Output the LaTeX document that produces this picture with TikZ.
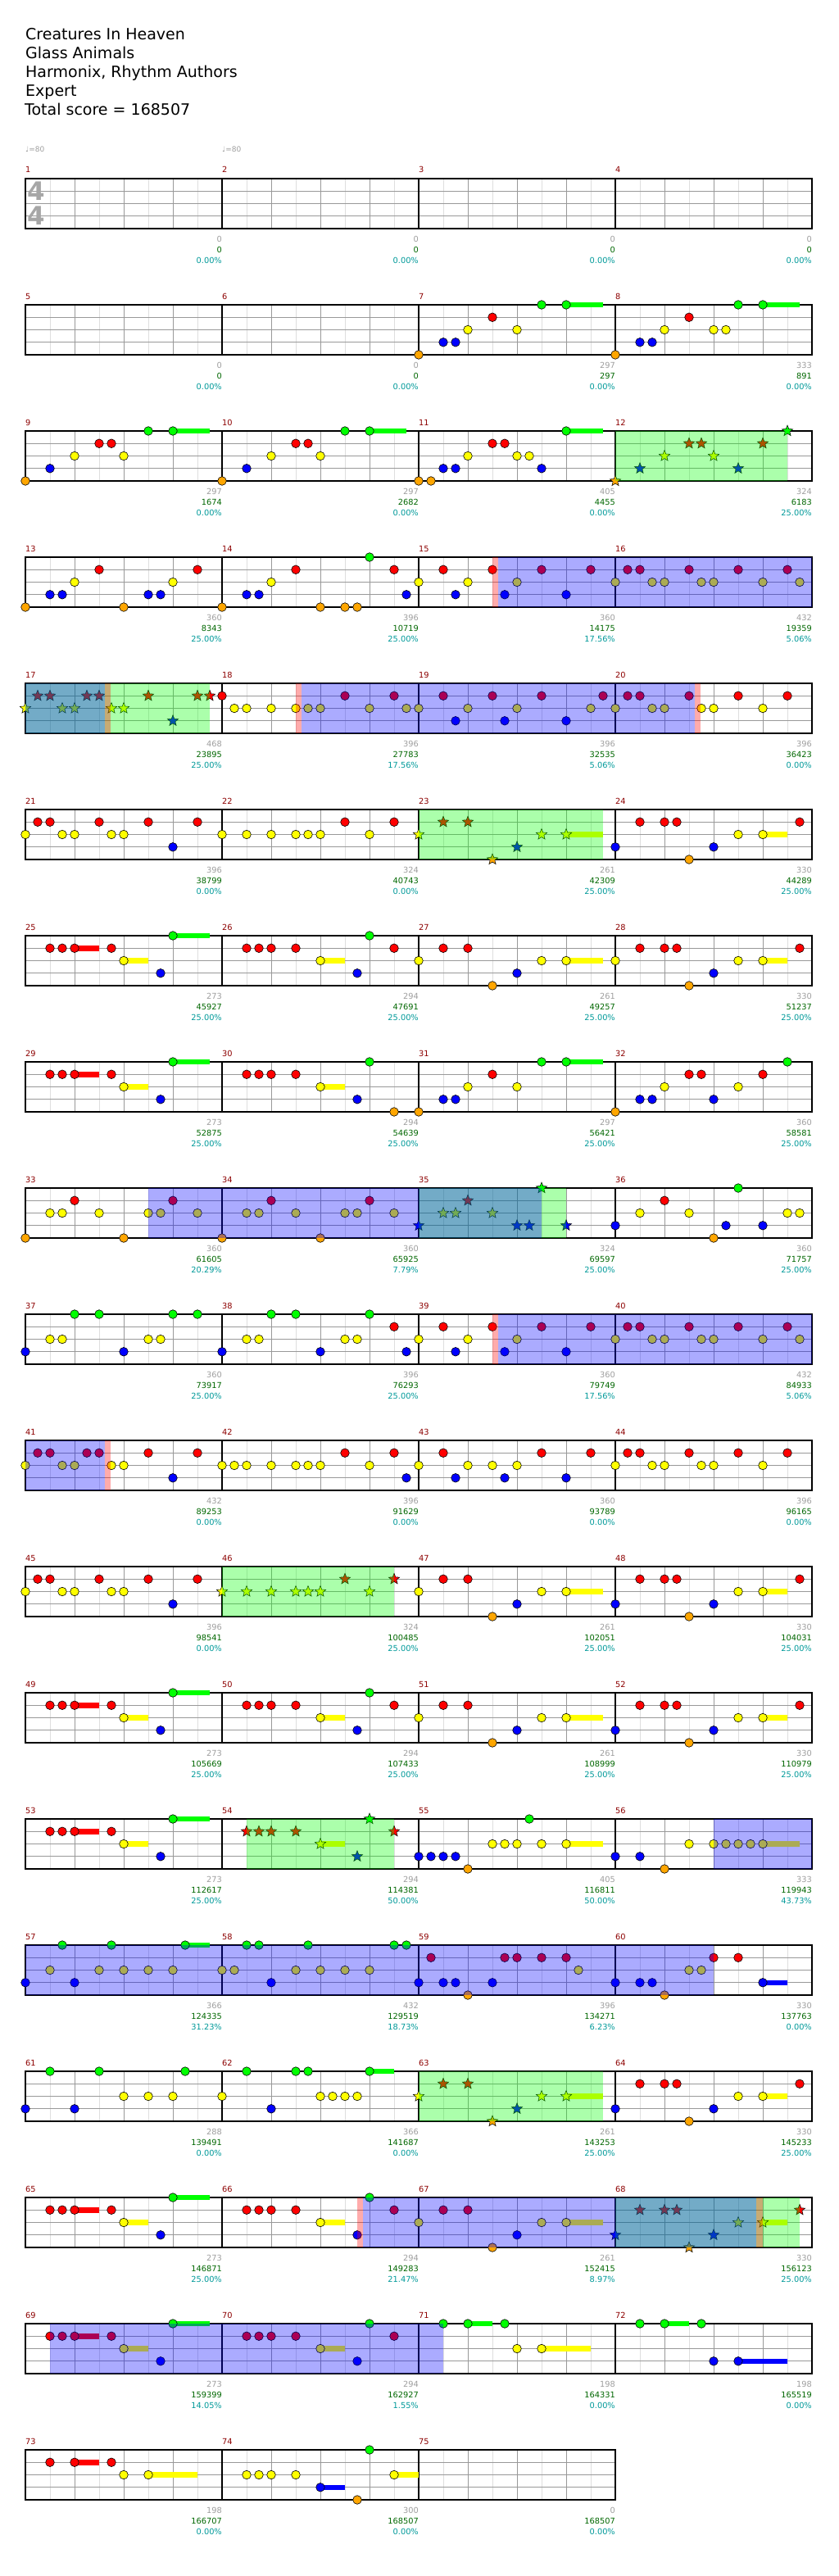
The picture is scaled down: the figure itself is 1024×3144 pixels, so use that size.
\documentclass[tikz,border=0pt]{standalone}
\usepackage{fontspec}
\setmainfont{DejaVu Sans}
\usetikzlibrary{shapes.geometric}

\definecolor{gemgreen}{rgb}{0,1,0}
\definecolor{gemred}{rgb}{1,0,0}
\definecolor{gemyellow}{rgb}{1,1,0}
\definecolor{gemblue}{rgb}{0,0,1}
\definecolor{gemorange}{rgb}{1,0.65,0}
\colorlet{lane0}{gemgreen}
\colorlet{lane1}{gemred}
\colorlet{lane2}{gemyellow}
\colorlet{lane3}{gemblue}
\colorlet{lane4}{gemorange}
\definecolor{barred}{rgb}{0.55,0,0}
\definecolor{gaingray}{rgb}{0.62,0.62,0.62}
\definecolor{totgreen}{rgb}{0,0.4,0}
\definecolor{pctcyan}{rgb}{0,0.6,0.6}

\newcommand\numfont{\fontsize{9.8}{11}\selectfont}

% measure, position in eighths, lane -> \notex, \notey
\newcommand\notexy[3]{%
  \pgfmathtruncatemacro\nrow{(#1-1)/4}%
  \pgfmathtruncatemacro\ncol{#1-1-4*\nrow}%
  \pgfmathsetmacro\notex{31+240*\ncol+30*#2}%
  \pgfmathsetmacro\notey{218+154*\nrow+15.25*#3}}

% style, from measure/pos, to measure/pos (same row)
\newcommand\zone[5]{%
  \notexy{#2}{#3}{0}\let\zx\notex\let\zy\notey
  \notexy{#4}{#5}{4}%
  \fill[#1] (\zx,\zy) rectangle (\notex,\notey);}

\def\greennotes{7/5,7/6,8/5,8/6,9/5,9/6,10/5,10/6,11/6,14/6,25/6,26/6,29/6,30/6,31/5,31/6,32/7,36/5,37/2,37/3,37/6,37/7,38/2,38/3,38/6,49/6,50/6,53/6,55/4.5,57/1.5,57/3.5,57/6.5,58/1,58/1.5,58/3.5,58/7,58/7.5,61/1,61/3,61/6.5,62/1,62/3,62/3.5,62/6,65/6,66/6,69/6,70/6,71/1,71/2,71/3.5,72/1,72/2,72/3.5,74/6}
\def\rednotes{7/3,8/3,9/3,9/3.5,10/3,10/3.5,11/3,11/3.5,13/3,13/7,14/3,14/7,15/1,15/3,15/5,15/7,16/0.5,16/1,16/3,16/5,16/7,18/0,18/5,18/7,19/1,19/3,19/5,19/7.5,20/0.5,20/1,20/3,20/5,20/7,21/0.5,21/1,21/3,21/5,21/7,22/5,22/7,24/1,24/2,24/2.5,24/7.5,25/1,25/1.5,25/2,25/3.5,26/1,26/1.5,26/2,26/3,26/7,27/1,27/2,28/1,28/2,28/2.5,28/7.5,29/1,29/1.5,29/2,29/3.5,30/1,30/1.5,30/2,30/3,31/3,32/3,32/3.5,32/6,33/2,33/6,34/2,34/6,36/2,38/7,39/1,39/3,39/5,39/7,40/0.5,40/1,40/3,40/5,40/7,41/0.5,41/1,41/2.5,41/3,41/5,41/7,42/5,42/7,43/1,43/5,43/7,44/0.5,44/1,44/3,44/5,44/7,45/0.5,45/1,45/3,45/5,45/7,47/1,47/2,48/1,48/2,48/2.5,48/7.5,49/1,49/1.5,49/2,49/3.5,50/1,50/1.5,50/2,50/3,50/7,51/1,51/2,52/1,52/2,52/2.5,52/7.5,53/1,53/1.5,53/2,53/3.5,59/0.5,59/3.5,59/4,59/5,59/6,60/4,60/5,64/1,64/2,64/2.5,64/7.5,65/1,65/1.5,65/2,65/3.5,66/1,66/1.5,66/2,66/3,66/7,67/1,67/2,69/1,69/1.5,69/2,69/3.5,70/1,70/1.5,70/2,70/3,70/7,73/1,73/2,73/3.5}
\def\yellownotes{7/2,7/4,8/2,8/4,8/4.5,9/2,9/4,10/2,10/4,11/2,11/4,11/4.5,13/2,13/6,14/2,15/0,15/2,15/4,16/0,16/1.5,16/2,16/3.5,16/4,16/6,16/7.5,18/0.5,18/1,18/2,18/3,18/3.5,18/4,18/6,18/7.5,19/0,19/2,19/4,19/7,20/0,20/1.5,20/2,20/3.5,20/4,20/6,21/0,21/1.5,21/2,21/3.5,21/4,22/0,22/1,22/2,22/3,22/3.5,22/4,22/6,24/5,24/6,25/4,26/4,27/0,27/5,27/6,28/0,28/5,28/6,29/4,30/4,31/2,31/4,32/2,32/5,33/1,33/1.5,33/3,33/5,33/5.5,33/7,34/1,34/1.5,34/3,34/5,34/5.5,34/7,36/1,36/3,36/7,36/7.5,37/1,37/1.5,37/5,37/5.5,38/1,38/1.5,38/5,38/5.5,39/0,39/2,39/4,40/0,40/1.5,40/2,40/3.5,40/4,40/6,40/7.5,41/0,41/1.5,41/2,41/3.5,41/4,42/0,42/0.5,42/1,42/2,42/3,42/3.5,42/4,42/6,43/0,43/2,43/3,43/4,44/0,44/1.5,44/2,44/3.5,44/4,44/6,45/0,45/1.5,45/2,45/3.5,45/4,47/0,47/5,47/6,48/5,48/6,49/4,50/4,51/0,51/5,51/6,52/5,52/6,53/4,55/3,55/3.5,55/4,55/5,55/6,56/3,56/4,56/4.5,56/5,56/5.5,56/6,57/1,57/3,57/4,57/5,57/6,58/0,58/0.5,58/3,58/4,58/5,58/6,59/6.5,60/3,60/3.5,61/4,61/5,61/6,62/0,62/4,62/4.5,62/5,62/5.5,64/5,64/6,65/4,66/4,67/0,67/5,67/6,69/4,70/4,71/4,71/5,73/4,73/5,74/1,74/1.5,74/2,74/3,74/7}
\def\bluenotes{7/1,7/1.5,8/1,8/1.5,9/1,10/1,11/1,11/1.5,11/5,13/1,13/1.5,13/5,13/5.5,14/1,14/1.5,14/7.5,15/1.5,15/3.5,15/6,19/1.5,19/3.5,19/6,21/6,24/0,24/4,25/5.5,26/5.5,27/4,28/4,29/5.5,30/5.5,31/1,31/1.5,32/1,32/1.5,32/4,36/0,36/4.5,36/6,37/0,37/4,38/0,38/4,38/7.5,39/1.5,39/3.5,39/6,41/6,42/7.5,43/1.5,43/3.5,43/6,45/6,47/4,48/0,48/4,49/5.5,50/5.5,51/4,52/0,52/4,53/5.5,55/0,55/0.5,55/1,55/1.5,56/0,56/1,57/0,57/2,58/2,59/0,59/1,59/1.5,59/3,60/0,60/1,60/1.5,60/6,61/0,61/2,62/2,64/0,64/4,65/5.5,66/5.5,67/4,69/5.5,70/5.5,72/4,72/5,74/4}
\def\orangenotes{7/0,8/0,9/0,10/0,11/0,11/0.5,13/0,13/4,14/0,14/4,14/5,14/5.5,24/3,27/3,28/3,30/7,31/0,32/0,33/0,33/4,34/0,34/4,36/4,47/3,48/3,51/3,52/3,55/2,56/2,59/2,60/2,64/3,67/3,74/5.5}
\def\starnotes{12/0/4,12/1/3,12/2/2,12/3/1,12/3.5/1,12/4/2,12/5/3,12/6/1,12/7/0,17/0/2,17/0.5/1,17/1/1,17/1.5/2,17/2/2,17/2.5/1,17/3/1,17/3.5/2,17/4/2,17/5/1,17/6/3,17/7/1,17/7.5/1,23/0/2,23/1/1,23/2/1,23/3/4,23/4/3,23/5/2,23/6/2,35/0/3,35/1/2,35/1.5/2,35/2/1,35/3/2,35/4/3,35/4.5/3,35/5/0,35/6/3,46/0/2,46/1/2,46/2/2,46/3/2,46/3.5/2,46/4/2,46/5/1,46/6/2,46/7/1,54/1/1,54/1.5/1,54/2/1,54/3/1,54/4/2,54/5.5/3,54/6/0,54/7/1,63/0/2,63/1/1,63/2/1,63/3/4,63/4/3,63/5/2,63/6/2,68/0/3,68/1/1,68/2/1,68/2.5/1,68/3/4,68/4/3,68/5/2,68/6/2,68/7.5/1}
\def\holds{7/6/7.5/0,8/6/7.5/0,9/6/7.5/0,10/6/7.5/0,11/6/7.5/0,23/6/7.5/2,24/6/7/2,25/2/3/1,25/4/5/2,25/6/7.5/0,26/4/5/2,27/6/7.5/2,28/6/7/2,29/2/3/1,29/4/5/2,29/6/7.5/0,30/4/5/2,31/6/7.5/0,47/6/7.5/2,48/6/7/2,49/2/3/1,49/4/5/2,49/6/7.5/0,50/4/5/2,51/6/7.5/2,52/6/7/2,53/2/3/1,53/4/5/2,53/6/7.5/0,54/4/5/2,55/6/7.5/2,56/6/7.5/2,57/6.5/7.5/0,60/6/7/3,62/6/7/0,63/6/7.5/2,64/6/7/2,65/2/3/1,65/4/5/2,65/6/7.5/0,66/4/5/2,67/6/7.5/2,68/6/7/2,69/2/3/1,69/4/5/2,69/6/7.5/0,70/4/5/2,71/2/3/0,71/5/7/2,72/2/3/0,72/5/7/3,73/2/3/1,73/5/7/2,74/4/5/3,74/7/8/2}
\def\scores{1/0/0/0.00,2/0/0/0.00,3/0/0/0.00,4/0/0/0.00,5/0/0/0.00,6/0/0/0.00,7/297/297/0.00,8/333/891/0.00,9/297/1674/0.00,10/297/2682/0.00,11/405/4455/0.00,12/324/6183/25.00,13/360/8343/25.00,14/396/10719/25.00,15/360/14175/17.56,16/432/19359/5.06,17/468/23895/25.00,18/396/27783/17.56,19/396/32535/5.06,20/396/36423/0.00,21/396/38799/0.00,22/324/40743/0.00,23/261/42309/25.00,24/330/44289/25.00,25/273/45927/25.00,26/294/47691/25.00,27/261/49257/25.00,28/330/51237/25.00,29/273/52875/25.00,30/294/54639/25.00,31/297/56421/25.00,32/360/58581/25.00,33/360/61605/20.29,34/360/65925/7.79,35/324/69597/25.00,36/360/71757/25.00,37/360/73917/25.00,38/396/76293/25.00,39/360/79749/17.56,40/432/84933/5.06,41/432/89253/0.00,42/396/91629/0.00,43/360/93789/0.00,44/396/96165/0.00,45/396/98541/0.00,46/324/100485/25.00,47/261/102051/25.00,48/330/104031/25.00,49/273/105669/25.00,50/294/107433/25.00,51/261/108999/25.00,52/330/110979/25.00,53/273/112617/25.00,54/294/114381/50.00,55/405/116811/50.00,56/333/119943/43.73,57/366/124335/31.23,58/432/129519/18.73,59/396/134271/6.23,60/330/137763/0.00,61/288/139491/0.00,62/366/141687/0.00,63/261/143253/25.00,64/330/145233/25.00,65/273/146871/25.00,66/294/149283/21.47,67/261/152415/8.97,68/330/156123/25.00,69/273/159399/14.05,70/294/162927/1.55,71/198/164331/0.00,72/198/165519/0.00,73/198/166707/0.00,74/300/168507/0.00,75/0/168507/0.00}

\begin{document}
\begin{tikzpicture}[x=1pt,y=-1pt,
  headline/.style={anchor=base west,inner sep=0pt,font=\fontsize{19}{23}\selectfont},
  tempo/.style={anchor=base west,inner sep=0pt,text=gaingray,font=\fontsize{9}{10}\selectfont},
  timesig/.style={inner sep=0pt,text=gray!70,font=\fontsize{31}{31}\selectfont\bfseries},
  eighthline/.style={draw=black!13,line width=0.8pt},
  beatline/.style={draw=black!40,line width=0.8pt},
  laneline/.style={draw=black!40,line width=0.8pt},
  staffbox/.style={draw=black,line width=1.1pt},
  gem/.style={draw=black,line width=0.6pt},
  starnote/.style={star,star points=5,star point ratio=2.3,minimum size=14pt,inner sep=0pt,draw=black,line width=0.5pt},
  hold/.style={line width=6.5pt},
  odzone/.style={fill=gemgreen,fill opacity=0.33},
  solozone/.style={fill=gemblue,fill opacity=0.33},
  markzone/.style={fill=gemred,fill opacity=0.33},
  barlabel/.style={anchor=base west,inner sep=0pt,text=barred,font=\numfont},
  gainlabel/.style={anchor=base east,inner sep=0pt,text=gaingray,font=\numfont},
  totlabel/.style={anchor=base east,inner sep=0pt,text=totgreen,font=\numfont},
  pctlabel/.style={anchor=base east,inner sep=0pt,text=pctcyan,font=\numfont}]
  \useasboundingbox (0,0) rectangle (1024,3144);

  % song header
  \node[headline] (title) at (31,49) {Creatures In Heaven};
  \node[headline] (artist) at (31,72) {Glass Animals};
  \node[headline] (charter) at (31,95) {Harmonix, Rhythm Authors};
  \node[headline] (level) at (31,118) {Expert};
  \node[headline] (total) at (30,141) {Total score = 168507};
  \node[tempo] (tempo1) at (31,186) {♩=80};
  \node[tempo] (tempo2) at (271,186) {♩=80};

  % staves
  \foreach \m in {1,...,75} {
    \notexy{\m}{0}{0}
    \foreach \k in {1,3,5,7}
      \draw[eighthline] (\notex+30*\k,\notey) -- ++(0,61);
    \foreach \k in {2,4,6}
      \draw[beatline] (\notex+30*\k,\notey) -- ++(0,61);
    \foreach \k in {1,2,3}
      \draw[laneline] (\notex,\notey+15.25*\k) -- ++(240,0);
    \draw[staffbox] (\notex,\notey) rectangle ++(240,61);
  }
  \node[timesig] (tsup) at (44,233.5) {4};
  \node[timesig] (tsdown) at (44,263.5) {4};

  % sustains
  \foreach \m/\p/\e/\g in \holds {
    \notexy{\m}{\e}{\g}\let\hx\notex
    \notexy{\m}{\p}{\g}
    \draw[hold,lane\g] (\notex,\notey) -- (\hx,\notey);
  }

  % notes
  \foreach \m/\p in \greennotes {\notexy{\m}{\p}{0}\draw[gem,fill=gemgreen] (\notex,\notey) circle (5.3pt);}
  \foreach \m/\p in \rednotes {\notexy{\m}{\p}{1}\draw[gem,fill=gemred] (\notex,\notey) circle (5.3pt);}
  \foreach \m/\p in \yellownotes {\notexy{\m}{\p}{2}\draw[gem,fill=gemyellow] (\notex,\notey) circle (5.3pt);}
  \foreach \m/\p in \bluenotes {\notexy{\m}{\p}{3}\draw[gem,fill=gemblue] (\notex,\notey) circle (5.3pt);}
  \foreach \m/\p in \orangenotes {\notexy{\m}{\p}{4}\draw[gem,fill=gemorange] (\notex,\notey) circle (5.3pt);}
  \foreach \m/\p/\g [count=\k] in \starnotes {
    \notexy{\m}{\p}{\g}
    \node[starnote,fill=lane\g] (star\k) at (\notex,\notey) {};
  }

  % overdrive phrases, solos and their markers
  \foreach \a/\b/\c/\d in {12/0/12/7,17/0/17/7.5,23/0/23/7.5,35/0/35/6,46/0/46/7,54/1/54/7,63/0/63/7.5,68/0/68/7.5}
    {\zone{odzone}{\a}{\b}{\c}{\d}}
  \foreach \a/\b/\c/\d in {15/3.22/16/8,17/0/17/3.22,18/3.22/20/3.22,33/5/35/5,39/3.22/40/8,41/0/41/3.22,56/4/56/8,57/0/60/4,66/5.72/68/5.72,69/1/71/1}
    {\zone{solozone}{\a}{\b}{\c}{\d}}
  \foreach \a/\b/\c/\d in {15/3/15/3.22,17/3.22/17/3.47,18/3/18/3.22,20/3.22/20/3.47,39/3/39/3.22,41/3.22/41/3.47,66/5.5/66/5.72,68/5.72/68/6}
    {\zone{markzone}{\a}{\b}{\c}{\d}}

  % measure numbers and scores
  \foreach \m in {1,...,75} {
    \notexy{\m}{0}{0}
    \node[barlabel] (bar\m) at (\notex,\notey-7) {\m};
  }
  \foreach \m/\a/\b/\c in \scores {
    \notexy{\m}{8}{4}
    \node[gainlabel] (gain\m) at (\notex,\notey+16) {\a};
    \node[totlabel] (tot\m) at (\notex,\notey+29) {\b};
    \node[pctlabel] (pct\m) at (\notex,\notey+42) {\c\%};
  }
\end{tikzpicture}
\end{document}
